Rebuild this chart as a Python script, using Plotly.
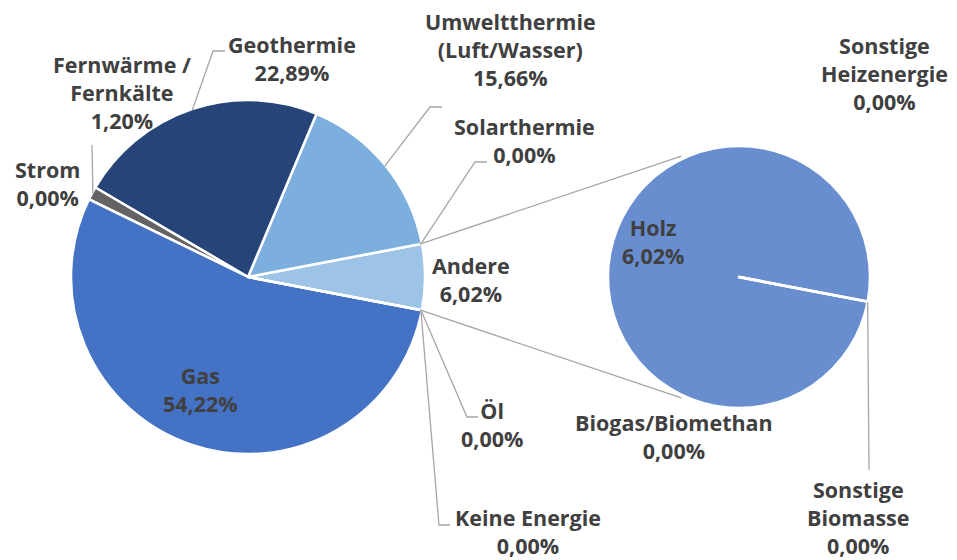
import math
import plotly.graph_objects as go

# The page body has a default 8px margin, so the figure is drawn 8px in from the
# top-left corner; the figure is sized so it still fits inside the 957x560 window.
PAGE_OFF = 8
W, H = 957 - PAGE_OFF, 560 - PAGE_OFF

# ---------------- data ----------------
main_labels = ["Andere", "Solarthermie", "Umweltthermie<br>(Luft/Wasser)", "Geothermie",
               "Fernwärme /<br>Fernkälte", "Strom", "Gas", "Öl", "Keine Energie"]
main_values = [6.02, 0.00, 15.66, 22.89, 1.20, 0.00, 54.22, 0.00, 0.00]
main_colors = ["#9DC3E6", "#A5A5A5", "#7CAFDD", "#264478", "#636363", "#A5A5A5",
               "#4472C4", "#A5A5A5", "#A5A5A5"]

sub_labels = ["Sonstige<br>Heizenergie", "Holz", "Biogas/Biomethan", "Sonstige<br>Biomasse"]
sub_values = [0.00, 6.02, 0.00, 0.00]
sub_colors = ["#A5A5A5", "#698ED0", "#A5A5A5", "#A5A5A5"]

# ---------------- layout geometry (window pixels) ----------------
MAIN_C = (248, 277)
MAIN_R = 177
SUB_C = (739, 277)
SUB_R = 131
SUB_CONNECT_DEG = 115.5

# label block centres (window pixels)
label_pos = {
    "Andere": (471, 279),
    "Solarthermie": (524, 141),
    "Umweltthermie<br>(Luft/Wasser)": (510, 49),
    "Geothermie": (292, 59),
    "Fernwärme /<br>Fernkälte": (122, 92),
    "Strom": (47, 184),
    "Gas": (200, 389),
    "Öl": (492, 424),
    "Keine Energie": (528, 531),
    "Sonstige<br>Heizenergie": (884, 74),
    "Holz": (653, 241),
    "Biogas/Biomethan": (674, 436),
    "Sonstige<br>Biomasse": (858, 517),
}
# leader line elbows (window pixels), after the point on the pie edge
leaders_main = {
    "Geothermie": [(213, 51), (225, 51)],
    "Umweltthermie<br>(Luft/Wasser)": [(430, 107), (442, 107)],
    "Solarthermie": [(475, 162), (487, 162)],
    "Fernwärme /<br>Fernkälte": [(92, 145)],
    "Öl": [(467, 417), (478, 417)],
    "Keine Energie": [(439, 525), (450, 525)],
}
leaders_sub = {
    "Sonstige<br>Biomasse": [(869, 470)],
}

TEXT_COLOR = "#404040"
LINE_COLOR = "#A6A6A6"
FONT = dict(family="Open Sans", size=21.5, color=TEXT_COLOR, weight=700)


def px(x):
    return (x - PAGE_OFF) / W


def py(y):
    return 1 - (y - PAGE_OFF) / H


def fmt(v):
    return f"{v:.2f}".replace(".", ",") + "%"


def angles(values, start):
    tot = sum(values)
    out = []
    a = start
    for v in values:
        span = v / tot * 360
        out.append((a, a + span / 2, a + span))
        a += span
    return out


def on_circle(c, r, deg):
    return (c[0] + r * math.cos(math.radians(deg)), c[1] - r * math.sin(math.radians(deg)))


# the "Andere" slice is centred on the horizontal axis
start_deg = -main_values[0] / sum(main_values) * 360 / 2


def plotly_rotation(values):
    # plotly (counterclockwise) puts the first slice clockwise of `rotation`
    first_span = values[0] / sum(values) * 360
    return 90 - start_deg - first_span


fig = go.Figure()
fig.add_trace(go.Pie(
    values=main_values, labels=[l.replace("<br>", " ") for l in main_labels],
    sort=False, direction="counterclockwise", rotation=plotly_rotation(main_values),
    marker=dict(colors=main_colors, line=dict(color="white", width=2.5)),
    textinfo="none", hoverinfo="label+percent", showlegend=False,
    domain=dict(x=[px(MAIN_C[0] - MAIN_R), px(MAIN_C[0] + MAIN_R)],
                y=[py(MAIN_C[1] + MAIN_R), py(MAIN_C[1] - MAIN_R)]),
))
fig.add_trace(go.Pie(
    values=sub_values, labels=[l.replace("<br>", " ") for l in sub_labels],
    sort=False, direction="counterclockwise", rotation=plotly_rotation(sub_values),
    marker=dict(colors=sub_colors, line=dict(color="white", width=2.5)),
    textinfo="none", hoverinfo="label+percent", showlegend=False,
    domain=dict(x=[px(SUB_C[0] - SUB_R), px(SUB_C[0] + SUB_R)],
                y=[py(SUB_C[1] + SUB_R), py(SUB_C[1] - SUB_R)]),
))

shapes = []
annotations = []


def path_shape(points, color, width):
    d = "M " + " L ".join(f"{px(x):.5f},{py(y):.5f}" for x, y in points)
    return dict(type="path", path=d, xref="paper", yref="paper",
                line=dict(color=color, width=width))


main_ang = angles(main_values, start_deg)
for lab, val, (a0, am, a1) in zip(main_labels, main_values, main_ang):
    x, y = label_pos[lab]
    annotations.append(dict(x=px(x), y=py(y), xref="paper", yref="paper",
                            text=f"{lab}<br>{fmt(val)}", showarrow=False,
                            xanchor="center", yanchor="middle", font=FONT))
    if lab in leaders_main:
        p0 = on_circle(MAIN_C, MAIN_R - 1, am)
        shapes.append(path_shape([p0] + leaders_main[lab], LINE_COLOR, 1.3))

sub_ang = angles(sub_values, start_deg)
for lab, val, (a0, am, a1) in zip(sub_labels, sub_values, sub_ang):
    x, y = label_pos[lab]
    annotations.append(dict(x=px(x), y=py(y), xref="paper", yref="paper",
                            text=f"{lab}<br>{fmt(val)}", showarrow=False,
                            xanchor="center", yanchor="middle", font=FONT))
    if lab in leaders_sub:
        p0 = on_circle(SUB_C, SUB_R, am)
        shapes.append(path_shape([p0] + leaders_sub[lab], LINE_COLOR, 1.3))

# white radial separator of the zero slices in the secondary pie
shapes.append(path_shape([SUB_C, on_circle(SUB_C, SUB_R, sub_ang[0][0])], "white", 3))

# connector lines between the pies
other_a0, _, other_a1 = main_ang[0]
shapes.append(path_shape([on_circle(MAIN_C, MAIN_R - 2, other_a1),
                          on_circle(SUB_C, SUB_R + 3, SUB_CONNECT_DEG)], LINE_COLOR, 1.3))
shapes.append(path_shape([on_circle(MAIN_C, MAIN_R - 2, other_a0),
                          on_circle(SUB_C, SUB_R + 3, -SUB_CONNECT_DEG)], LINE_COLOR, 1.3))

fig.update_layout(
    width=W, height=H, margin=dict(l=0, r=0, t=0, b=0),
    paper_bgcolor="white", plot_bgcolor="white",
    shapes=shapes, annotations=annotations,
    font=dict(family="Open Sans", color=TEXT_COLOR),
)

fig.write_html("out.html")
